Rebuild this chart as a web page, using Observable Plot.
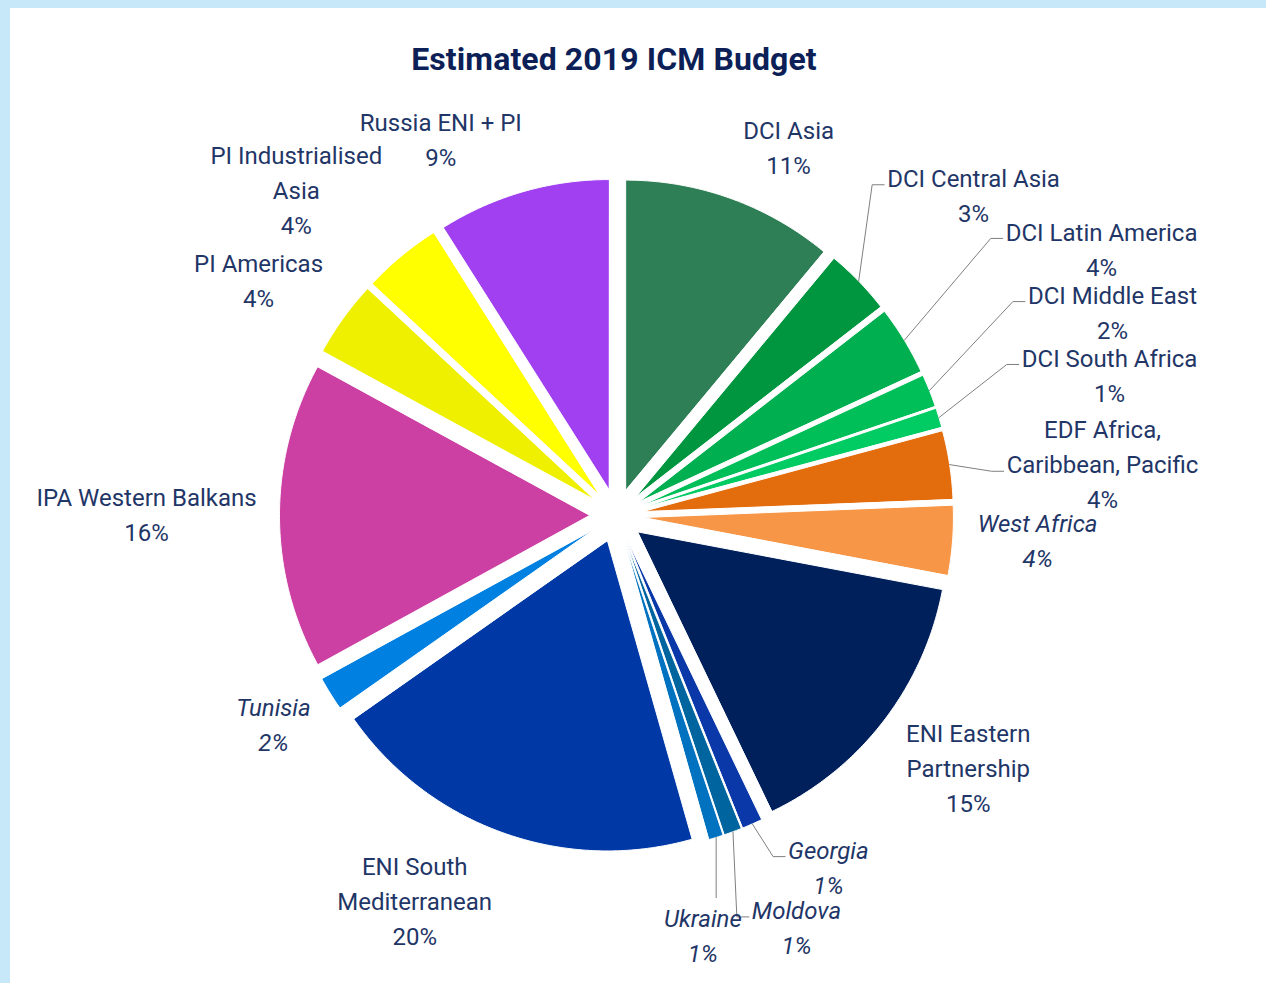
<!DOCTYPE html>
<html>
<head>
<meta charset="utf-8">
<script src="https://cdn.jsdelivr.net/npm/d3@7"></script>
<script src="https://cdn.jsdelivr.net/npm/@observablehq/plot@0.6"></script>
<style>
html, body { margin: 0; padding: 0; }
body { width: 1266px; height: 983px; background: #c6e8f8; position: relative; overflow: hidden; font-family: Roboto, sans-serif; }
#frame { position: absolute; left: 10px; top: 8px; width: 1256px; height: 975px; background: #ffffff; }
#title { position: absolute; left: 0; top: 43px; width: 1228px; text-align: center; font: bold 32px/32px Roboto, sans-serif; color: #0d1f57; letter-spacing: 0.1px; }
#chart { position: absolute; left: 0; top: 100px; }
</style>
</head>
<body>
<div id="frame"></div>
<div id="title">Estimated 2019 ICM Budget</div>
<div id="chart"></div>
<script>
// ---------- data ----------
const categories = [
  "DCI Asia", "DCI Central Asia", "DCI Latin America", "DCI Middle East", "DCI South Africa",
  "EDF Africa, Caribbean, Pacific", "West Africa", "ENI Eastern Partnership", "Georgia", "Moldova",
  "Ukraine", "ENI South Mediterranean", "Tunisia", "IPA Western Balkans", "PI Americas",
  "PI Industrialised Asia", "Russia ENI + PI"
];
const values = [11.0, 3.45, 3.6, 1.7, 1.0, 3.55, 3.6, 14.85, 1.05, 0.92, 0.75, 19.6, 1.75, 15.9, 3.95, 4.1, 8.95];
const percentLabels = ["11%", "3%", "4%", "2%", "1%", "4%", "4%", "15%", "1%", "1%", "1%", "20%", "2%", "16%", "4%", "4%", "9%"];
const labelLines = [
  ["DCI Asia"], ["DCI Central Asia"], ["DCI Latin America"], ["DCI Middle East"], ["DCI South Africa"],
  ["EDF Africa,", "Caribbean, Pacific"], ["West Africa"], ["ENI Eastern", "Partnership"], ["Georgia"], ["Moldova"],
  ["Ukraine"], ["ENI South", "Mediterranean"], ["Tunisia"], ["IPA Western Balkans"], ["PI Americas"],
  ["PI Industrialised", "Asia"], ["Russia ENI + PI"]
];

// ---------- style ----------
const colors = [
  "#2e7f55", "#009640", "#00b050", "#00bf59", "#00cc63",
  "#e36c0c", "#f79646", "#00205c", "#0a38a8", "#00649e",
  "#0072c0", "#0039a6", "#0080e0", "#cc40a4", "#eef000",
  "#ffff00", "#a040f0"
];
const italicLabel = [false,false,false,false,false,false,true,false,true,true,true,false,true,false,false,false,false];
// label placement: angle (deg, clockwise from top) and distance (in pie radii)
const labelAngle = [25.1, 48.2, 61.3, 67.8, 74.2, 84.1, 93.5, 125.8, 149.0, 156.45, 168.4, 207.6, 238.5, 270.06, 303.2, 315.4, 334.9];
const labelDist  = [1.309, 1.545, 1.784, 1.728, 1.653, 1.576, 1.361, 1.399, 1.327, 1.453, 1.385, 1.405, 1.298, 1.516, 1.380, 1.471, 1.336];
// leader line: null = none, number = attach to that label line, "v" = vertical from slice
const leaderSpec = [null, 0, 0, 0, 0, 1, null, null, 0, 0, "v", null, null, null, null, null, null];

const W = 1266, H = 883, CX = 616, CY = 415, R = 310, EXPLODE = 27, LH = 35, FS = 24, LABEL_DY = -3;
const textColor = "#1f3667";

// ---------- geometry ----------
const total = d3.sum(values);
const rad = Math.PI / 180;
let acc = 0;
const slices = categories.map((name, i) => {
  const a0 = acc / total * 360;
  acc += values[i];
  const a1 = acc / total * 360;
  const m = (a0 + a1) / 2;
  const apx = EXPLODE / R * Math.sin(m * rad), apy = EXPLODE / R * Math.cos(m * rad);
  return {name, i, a0, a1, m, apx, apy};
});

const slicePts = [];
for (const s of slices) {
  slicePts.push({name: s.name, x: s.apx, y: s.apy});
  const n = Math.max(2, Math.ceil((s.a1 - s.a0) / 0.5));
  for (let k = 0; k <= n; k++) {
    const a = (s.a0 + (s.a1 - s.a0) * k / n) * rad;
    slicePts.push({name: s.name, x: s.apx + Math.sin(a), y: s.apy + Math.cos(a)});
  }
}

const ctx = document.createElement("canvas").getContext("2d");
function textWidth(t, italic) {
  ctx.font = (italic ? "italic " : "") + FS + "px Roboto";
  return ctx.measureText(t).width;
}

const labels = [];
const leaderPts = [];
slices.forEach((s, i) => {
  const lines = labelLines[i].concat([percentLabels[i]]);
  const lx = labelDist[i] * R * Math.sin(labelAngle[i] * rad);              // px, right
  const ly = -labelDist[i] * R * Math.cos(labelAngle[i] * rad) + LABEL_DY;  // px, down
  labels.push({text: lines.join("\n"), x: lx / R, y: -ly / R, italic: italicLabel[i]});
  const spec = leaderSpec[i];
  if (spec === null) return;
  const sx = s.apx * R + R * Math.sin(s.m * rad);
  const sy = -s.apy * R - R * Math.cos(s.m * rad);
  const lineY = k => ly + (k - (lines.length - 1) / 2) * LH;
  let pts;
  if (spec === "v") {
    pts = [[sx, sy], [sx, lineY(0) - 18]];
  } else {
    const left = lx - textWidth(lines[spec], italicLabel[i]) / 2;
    const ex = left - 3, ey = lineY(spec) + 9;
    pts = [[sx, sy], [ex - 12, ey], [ex, ey]];
  }
  for (const [px, py] of pts) leaderPts.push({name: s.name, x: px / R, y: -py / R});
});

const chart = Plot.plot({
  width: W,
  height: H,
  margin: 0,
  style: {background: "transparent", overflow: "visible"},
  x: {domain: [-CX / R, (W - CX) / R], axis: null},
  y: {domain: [-(H - CY) / R, CY / R], axis: null},
  color: {domain: categories, range: colors},
  marks: [
    Plot.line(slicePts, {x: "x", y: "y", z: "name", fill: "name", stroke: "white", strokeWidth: 1, curve: "linear-closed"}),
    Plot.line(leaderPts, {x: "x", y: "y", z: "name", stroke: "#7f7f7f", strokeWidth: 1}),
    Plot.text(labels.filter(d => !d.italic), {x: "x", y: "y", text: "text", fontSize: FS, lineHeight: LH / FS, fill: textColor, fontFamily: "Roboto"}),
    Plot.text(labels.filter(d => d.italic), {x: "x", y: "y", text: "text", fontSize: FS, lineHeight: LH / FS, fill: textColor, fontFamily: "Roboto", fontStyle: "italic"})
  ]
});
document.getElementById("chart").appendChild(chart);
</script>
</body>
</html>
